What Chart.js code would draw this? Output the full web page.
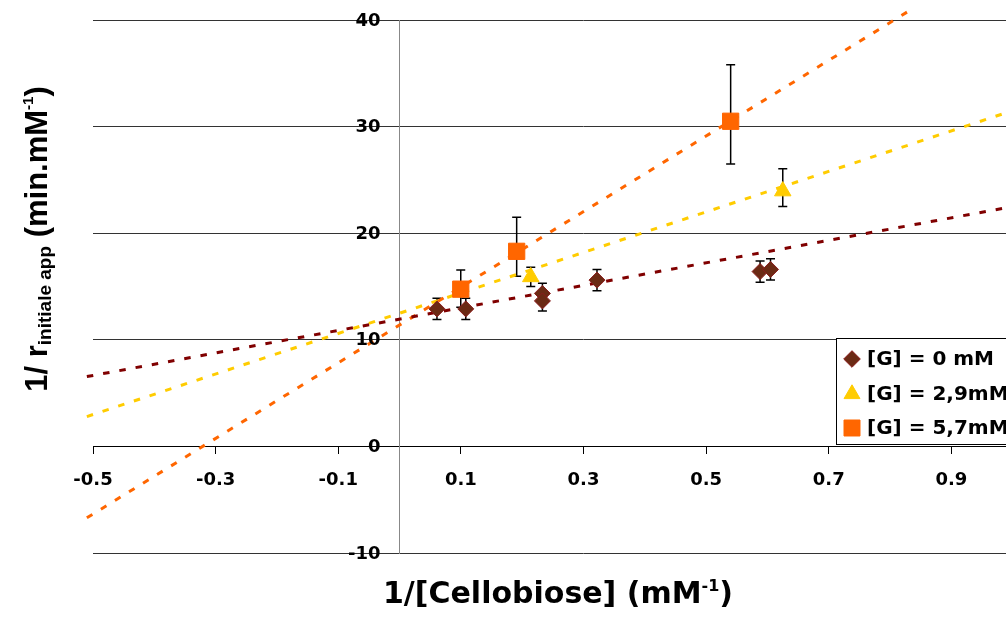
<!DOCTYPE html>
<html>
<head>
<meta charset="utf-8">
<script src="https://cdn.jsdelivr.net/npm/chart.js@4.4.0/dist/chart.umd.min.js"></script>
<style>
    html, body { margin: 0; padding: 0; background: #fff; overflow: hidden; }
    .container-chart { width: 1006px; height: 618px; overflow: hidden; }
</style>
</head>
<body>
<div class="container-chart"><canvas id="chart-lineweaver" width="1120" height="618"></canvas></div>
<script>
// Data
var seriesLabels = ['[G] = 0 mM', '[G] = 2,9mM', '[G] = 5,7mM'];

var g0X = [0.061, 0.108, 0.233, 0.233, 0.322, 0.588, 0.605];
var g0Y = [12.9, 12.9, 14.35, 13.65, 15.6, 16.4, 16.6];
var g0ErrUp = [1.0, 1.0, 0.95, 0.95, 1.0, 1.0, 1.0];
var g0ErrDown = [1.0, 1.0, 0.95, 0.95, 1.0, 1.0, 1.0];

var g29X = [0.214, 0.625];
var g29Y = [15.9, 23.95];
var g29ErrUp = [0.9, 2.1];
var g29ErrDown = [0.9, 1.45];

var g57X = [0.0998, 0.191, 0.540];
var g57Y = [14.75, 18.3, 30.5];
var g57ErrUp = [1.8, 3.2, 5.3];
var g57ErrDown = [1.7, 2.35, 4.0];

// trend lines: end points
var trendG0X = [-0.51, 1.0];
var trendG0Y = [6.55, 22.5];
var trendG29X = [-0.51, 1.0];
var trendG29Y = [2.8, 31.5];
var trendG57X = [-0.51, 0.835];
var trendG57Y = [-6.7, 41.0];

var xTicks = [-0.5, -0.3, -0.1, 0.1, 0.3, 0.5, 0.7, 0.9, 1.1];
var yTicks = [-10, 0, 10, 20, 30, 40];

function toPoints(xs, ys) {
    return xs.map(function (x, i) { return { x: x, y: ys[i] }; });
}

function drawMarker(ctx, style, x, y, r, fill, stroke) {
    ctx.beginPath();
    if (style === 'rectRot') {
        ctx.moveTo(x - r, y); ctx.lineTo(x, y - r); ctx.lineTo(x + r, y); ctx.lineTo(x, y + r);
    } else if (style === 'triangle') {
        ctx.moveTo(x, y - r);
        ctx.lineTo(x + Math.sin(2 * Math.PI / 3) * r, y + r / 2);
        ctx.lineTo(x - Math.sin(2 * Math.PI / 3) * r, y + r / 2);
    } else {
        var s = Math.SQRT1_2 * r;
        ctx.rect(x - s, y - s, 2 * s, 2 * s);
    }
    ctx.closePath();
    ctx.fillStyle = fill;
    ctx.fill();
    ctx.strokeStyle = stroke;
    ctx.lineWidth = 1;
    ctx.stroke();
}

function drawRich(ctx, segs, family) {
    var total = 0;
    segs.forEach(function (s) {
        ctx.font = 'bold ' + s.size + 'px "' + family + '"';
        s.w = ctx.measureText(s.text).width;
        total += s.w;
    });
    var x = -total / 2;
    segs.forEach(function (s) {
        ctx.font = 'bold ' + s.size + 'px "' + family + '"';
        ctx.fillText(s.text, x, s.dy || 0);
        x += s.w;
    });
}

// error bars under the markers
var errorBars = {
    id: 'errorBars',
    beforeDatasetsDraw: function (chart) {
        var ctx = chart.ctx;
        var xs = chart.scales.x, ys = chart.scales.y;
        ctx.save();
        ctx.strokeStyle = '#000';
        ctx.lineWidth = 1.5;
        chart.data.datasets.forEach(function (ds) {
            if (!ds.errUp) return;
            ds.data.forEach(function (p, i) {
                var px = xs.getPixelForValue(p.x);
                var top = ys.getPixelForValue(p.y + ds.errUp[i]);
                var bot = ys.getPixelForValue(p.y - ds.errDown[i]);
                ctx.beginPath();
                ctx.moveTo(px, top); ctx.lineTo(px, bot);
                ctx.moveTo(px - 4.5, top); ctx.lineTo(px + 4.5, top);
                ctx.moveTo(px - 4.5, bot); ctx.lineTo(px + 4.5, bot);
                ctx.stroke();
            });
        });
        ctx.restore();
    }
};

// y tick labels (left of the crossing axis), legend box, axis titles
var decorations = {
    id: 'decorations',
    afterDraw: function (chart) {
        var ctx = chart.ctx;
        var xs = chart.scales.x, ys = chart.scales.y;
        ctx.save();

        var axisX = xs.getPixelForValue(0);
        ctx.fillStyle = '#000';
        ctx.font = 'bold 18px "DejaVu Sans"';
        ctx.textAlign = 'right';
        ctx.textBaseline = 'middle';
        ys.ticks.forEach(function (t) {
            ctx.fillText(String(t.value), axisX - 19, ys.getPixelForValue(t.value) + 1);
        });

        ctx.fillStyle = '#fff';
        ctx.fillRect(836.5, 338.5, 300, 106);
        ctx.strokeStyle = '#000';
        ctx.lineWidth = 1;
        ctx.strokeRect(836.5, 338.5, 300, 106);
        var rows = [359, 394, 428];
        var sizes = [8.3, 9.2, 11.3];
        for (var i = 0; i < 3; i++) {
            var ds = chart.data.datasets[i];
            drawMarker(ctx, ds.pointStyle, 852, rows[i], sizes[i], ds.backgroundColor, ds.borderColor);
            ctx.fillStyle = '#000';
            ctx.font = 'bold 20px "DejaVu Sans"';
            ctx.textBaseline = 'middle';
            ctx.textAlign = 'left';
            ctx.fillText(ds.label, 867, rows[i] + 1);
        }

        ctx.fillStyle = '#000';
        ctx.textBaseline = 'alphabetic';
        ctx.textAlign = 'left';
        ctx.save();
        ctx.translate(558, 603);
        drawRich(ctx, [
            { text: '1/[Cellobiose] (mM', size: 30 },
            { text: '-1', size: 16, dy: -12 },
            { text: ')', size: 30 }
        ], 'DejaVu Sans');
        ctx.restore();

        ctx.save();
        ctx.translate(47, 239);
        ctx.rotate(-Math.PI / 2);
        drawRich(ctx, [
            { text: '1/ r', size: 31 },
            { text: 'initiale app', size: 19, dy: 4 },
            { text: ' (min.mM', size: 31 },
            { text: '-1', size: 15, dy: -14 },
            { text: ')', size: 31 }
        ], 'Liberation Sans');
        ctx.restore();
        ctx.restore();
    }
};

var tickFont = { family: 'DejaVu Sans', size: 18, weight: 'bold' };

var chartLw = document.getElementById('chart-lineweaver').getContext('2d');
var myChart = new Chart(chartLw, {
    type: 'scatter',
    data: {
        datasets: [{
            label: seriesLabels[0],
            data: toPoints(g0X, g0Y),
            errUp: g0ErrUp, errDown: g0ErrDown,
            pointStyle: 'rectRot', pointRadius: 8,
            backgroundColor: '#6b2a14', borderColor: '#8b1c1c', borderWidth: 1
        }, {
            label: seriesLabels[1],
            data: toPoints(g29X, g29Y),
            errUp: g29ErrUp, errDown: g29ErrDown,
            pointStyle: 'triangle', pointRadius: 9.5,
            backgroundColor: '#ffcc00', borderColor: '#ffcc00', borderWidth: 1
        }, {
            label: seriesLabels[2],
            data: toPoints(g57X, g57Y),
            errUp: g57ErrUp, errDown: g57ErrDown,
            pointStyle: 'rect', pointRadius: 11.5,
            backgroundColor: '#ff6600', borderColor: '#ff6600', borderWidth: 1
        }, {
            data: toPoints(trendG0X, trendG0Y),
            showLine: true, pointRadius: 0, borderColor: '#800000', borderWidth: 3,
            borderDash: [6.5, 10], clip: false
        }, {
            data: toPoints(trendG29X, trendG29Y),
            showLine: true, pointRadius: 0, borderColor: '#ffcc00', borderWidth: 3,
            borderDash: [6.5, 10], clip: false
        }, {
            data: toPoints(trendG57X, trendG57Y),
            showLine: true, pointRadius: 0, borderColor: '#ff6600', borderWidth: 3,
            borderDash: [6.5, 10], clip: false
        }]
    },
    options: {
        responsive: false,
        animation: false,
        devicePixelRatio: 1,
        layout: { padding: { left: 93, right: 46, top: 20, bottom: 65 } },
        plugins: { legend: { display: false }, tooltip: { enabled: false } },
        scales: {
            x: {
                type: 'linear', position: { y: 0 }, min: -0.5, max: 1.1,
                afterBuildTicks: function (scale) { scale.ticks = xTicks.map(function (v) { return { value: v }; }); },
                grid: { drawOnChartArea: false, tickLength: 7, color: '#000' },
                border: { color: '#000', width: 1 },
                ticks: {
                    autoSkip: false, maxRotation: 0, padding: 16, color: '#000', font: tickFont,
                    callback: function (v) { return v.toFixed(1); }
                }
            },
            y: {
                type: 'linear', position: { x: 0 }, min: -10, max: 40,
                afterBuildTicks: function (scale) { scale.ticks = yTicks.map(function (v) { return { value: v }; }); },
                grid: { color: '#333', lineWidth: 1, tickLength: 7 },
                border: { color: '#888', width: 1 },
                ticks: { display: false }
            }
        }
    },
    plugins: [errorBars, decorations]
});
</script>
</body>
</html>
